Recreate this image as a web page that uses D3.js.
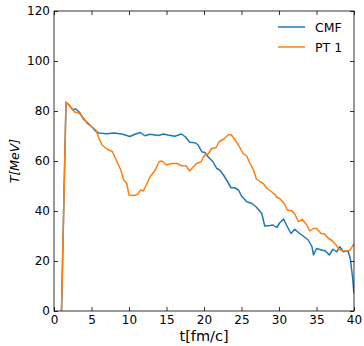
<!DOCTYPE html>
<html><head><meta charset="utf-8">
<script src="https://cdn.jsdelivr.net/npm/d3@7"></script>
<style>body{margin:0;background:#fff}svg{display:block}text{font-family:"DejaVu Sans",sans-serif}</style>
</head><body>
<script>
const seriesNames = ["CMF", "PT 1"];
const seriesColors = ["#1f77b4", "#ff7f0e"];
const xTicks = [0,5,10,15,20,25,30,35,40];
const yTicks = [0,20,40,60,80,100,120];
const cmfT = [1.0,1.6,2.0,2.5,2.9,3.4,4.0,4.4,5.1,5.6,6.0,7,8,9,9.5,10.1,10.8,11.5,12.1,12.8,13.9,14.6,15.2,16.1,17,17.5,18.1,18.8,19.2,19.7,20.1,20.6,21.2,21.7,22.1,22.6,23.0,23.6,24.1,24.6,25,25.7,26.4,27,27.7,28.1,28.8,29.2,29.7,30.1,30.6,31,31.6,32.1,32.6,33.2,33.9,34.4,34.6,35,35.7,36.2,36.7,37.2,37.7,38.1,38.6,39.2,39.5,39.8,40];
const cmfV = [0,83.5,82.5,80.5,80.8,79.5,76.5,75.5,73.5,71.8,71.2,70.9,71.2,70.8,70.4,69.8,70.7,71.4,70.1,70.7,70.2,70.8,70.4,69.9,70.8,69.7,67.5,67.3,66.5,63.7,63.4,61.5,59.7,57,56.4,54.4,52.4,49.3,49.3,48.4,46,43.7,43,41.5,39,34,34.2,34.4,33.4,35.3,36.8,34.4,31,32.7,31.4,30,28.4,25.7,22.4,25,24.4,24,22.4,24.7,23.7,25.7,23.7,24.1,21,13.7,7];
const pt1T = [1.0,1.6,2.1,2.7,3.4,4.0,4.4,5.1,5.6,6,6.4,7.1,7.8,8.4,8.9,9.3,9.7,10,10.7,11.2,11.5,11.9,12.4,12.8,13.5,14,14.4,15,15.7,16.4,17,17.6,18.1,18.6,19,19.6,20,20.6,21,21.6,22,22.6,23.2,23.6,24,24.6,25.2,25.7,26.1,26.6,27,27.5,27.9,28.4,29,29.5,29.7,30.1,30.7,31.1,31.7,32.1,32.6,33.1,33.7,34.1,34.6,35,35.6,36.1,36.6,37.1,37.6,38,38.5,39,39.5,39.8,40];
const pt1V = [0,83.5,82,79.7,79,77,75,73.5,72.4,69,66.4,64.7,63.7,59.7,56.4,52.4,51,46.4,46.2,46.7,48.4,48,51,53.7,56.4,59.7,60,58.4,59,59,58.1,58.1,56,57.7,59,59.7,62,63,65,65.3,67.7,68.7,70.4,70.6,69,66.4,63,62,59.3,56.4,52.7,51.7,51,49,47.7,46.5,45.5,45,43,40.4,40.1,38.8,35.7,36.7,34.4,32,33,33,31,30.8,29,28.1,26.4,24.7,24.1,24,24.4,26,26.8];

const W=364,H=346, L=54, R=354, T=11, B=311;
const svg=d3.select("body").append("svg").attr("width",W).attr("height",H);
const x=d3.scaleLinear().domain([0,40]).range([L,R]);
const y=d3.scaleLinear().domain([0,120]).range([B,T]);

svg.append("clipPath").attr("id","c").append("rect").attr("x",L).attr("y",T).attr("width",R-L).attr("height",B-T);
const line=d3.line().x(d=>x(d[0])).y(d=>y(d[1]));
const data=[d3.zip(cmfT,cmfV), d3.zip(pt1T,pt1V)];
data.forEach((d,i)=>{
  svg.append("path").datum(d).attr("d",line).attr("fill","none").attr("stroke",seriesColors[i]).attr("stroke-width",1.5).attr("stroke-linejoin","round").attr("clip-path","url(#c)");
});

const fs=12;
const gx=svg.append("g").attr("transform",`translate(0,${B})`).call(d3.axisBottom(x).tickValues(xTicks).tickSizeInner(-4).tickSizeOuter(0).tickPadding(4));
const gxt=svg.append("g").attr("transform",`translate(0,${T})`).call(d3.axisTop(x).tickValues(xTicks).tickSizeInner(-4).tickSizeOuter(0).tickFormat(""));
const gy=svg.append("g").attr("transform",`translate(${L},0)`).call(d3.axisLeft(y).tickValues(yTicks).tickSizeInner(-4).tickSizeOuter(0).tickPadding(4));
const gyr=svg.append("g").attr("transform",`translate(${R},0)`).call(d3.axisRight(y).tickValues(yTicks).tickSizeInner(-4).tickSizeOuter(0).tickFormat(""));
[gx,gxt,gy,gyr].forEach(g=>{g.select(".domain").remove();g.selectAll("line").attr("stroke","#000").attr("stroke-width",0.8);g.selectAll("text").attr("font-size",fs).attr("fill","#000").attr("font-family","DejaVu Sans");});
svg.append("rect").attr("x",L).attr("y",T).attr("width",R-L).attr("height",B-T).attr("fill","none").attr("stroke","#000").attr("stroke-width",0.8);

svg.append("text").attr("x",(L+R)/2).attr("y",341).attr("text-anchor","middle").attr("font-size",14.5).text("t[fm/c]");
svg.append("text").attr("transform",`translate(19,${(T+B)/2}) rotate(-90)`).attr("text-anchor","middle").attr("font-size",12.5).attr("font-style","italic").text("T[MeV]");

const lg=svg.append("g");
seriesNames.forEach((n,i)=>{
  const yy=27+i*20;
  lg.append("line").attr("x1",278).attr("x2",305).attr("y1",yy).attr("y2",yy).attr("stroke",seriesColors[i]).attr("stroke-width",1.5);
  lg.append("text").attr("x",315).attr("y",yy+4.5).attr("font-size",12.5).text(n);
});
</script>
</body></html>
